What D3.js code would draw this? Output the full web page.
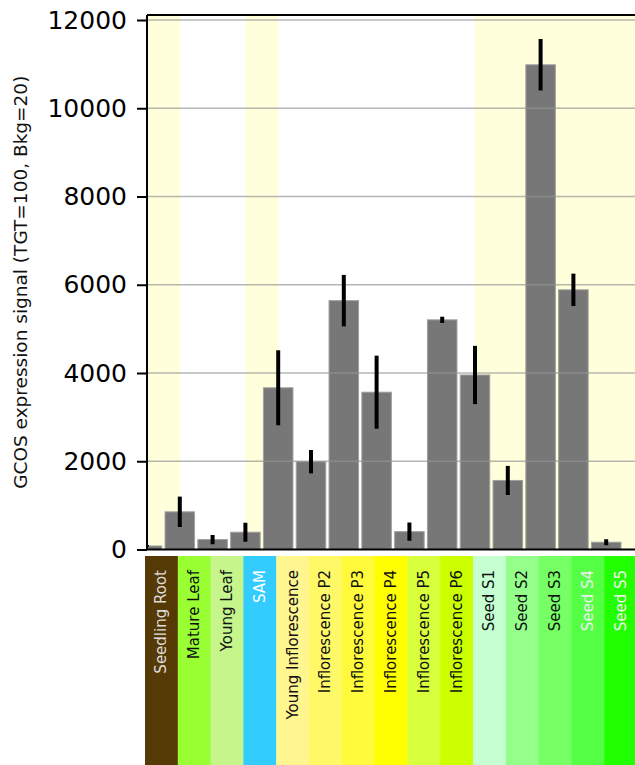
<!DOCTYPE html>
<html><head><meta charset="utf-8">
<script src="https://cdn.jsdelivr.net/npm/d3@7"></script>
<style>body{margin:0;background:#fff;overflow:hidden}</style>
</head><body>
<script>
const categories = ["Seedling Root","Mature Leaf","Young Leaf","SAM","Young Inflorescence","Inflorescence P2","Inflorescence P3","Inflorescence P4","Inflorescence P5","Inflorescence P6","Seed S1","Seed S2","Seed S3","Seed S4","Seed S5"];
const values = [80, 854, 226, 392, 3665, 1990, 5640, 3565, 405, 5205, 3955, 1565, 10985, 5885, 165];
const errors = [20, 345, 105, 215, 850, 265, 583, 828, 205, 70, 660, 330, 585, 367, 68];
const highlighted = [1,0,0,1,0,0,0,0,0,0,1,1,1,1,1];
const stripColors = ["#553a06","#99ff33","#c6f58b","#33ccff","#fff68f","#fff968","#fffa3c","#ffff00","#d8ff3c","#ccff00","#c6ffd2","#95ff8c","#77ff66","#55ff44","#22ff00"];
const labelColors = ["#dddddd","#111111","#111111","#ffffff","#111111","#111111","#111111","#111111","#111111","#111111","#111111","#111111","#111111","#eeeeee","#eeeeee"];
const yTicks = [0, 2000, 4000, 6000, 8000, 10000, 12000];
const yLabel = "GCOS expression signal (TGT=100, Bkg=20)";

const W = 635, H = 765;
const L = 147, T = 15, B = 549.5;
const svg = d3.select("body").append("svg").attr("width", W).attr("height", H)
  .style("font-family", "DejaVu Sans, sans-serif");

const x = d3.scaleLinear().domain([0, categories.length]).range([L, L + 32.8 * categories.length]);
const y = d3.scaleLinear().domain([0, 12000]).range([B, 20]);
const step = x(1) - x(0);

svg.append("defs").append("clipPath").attr("id", "plotclip")
  .append("rect").attr("x", L).attr("y", T).attr("width", W - L + 10).attr("height", B - T + 1);

const plot = svg.append("g").attr("clip-path", "url(#plotclip)");

// background stripes
plot.selectAll("rect.stripe").data(categories.map((c, i) => i).filter(i => highlighted[i]))
  .join("rect").attr("class", "stripe")
  .attr("x", i => x(i)).attr("width", step + 0.5)
  .attr("y", T).attr("height", B - T)
  .attr("fill", "#ffffdc");

// bars
plot.selectAll("rect.bar").data(values).join("rect").attr("class", "bar")
  .attr("x", (d, i) => x(i) - step * 0.45).attr("width", step * 0.9)
  .attr("y", d => y(d)).attr("height", d => B - y(d))
  .attr("fill", "#777777").attr("stroke", "#a0a0a0").attr("stroke-width", 1);

// gridlines (drawn over bars, semi-transparent)
plot.selectAll("line.grid").data(yTicks.filter(t => t > 0)).join("line").attr("class", "grid")
  .attr("x1", L).attr("x2", W).attr("y1", d => y(d)).attr("y2", d => y(d))
  .attr("stroke", "rgb(147,147,147)").attr("stroke-opacity", 0.68).attr("stroke-width", 1.5);

// error bars
plot.selectAll("line.err").data(values).join("line").attr("class", "err")
  .attr("x1", (d, i) => x(i)).attr("x2", (d, i) => x(i))
  .attr("y1", (d, i) => y(d + errors[i])).attr("y2", (d, i) => y(Math.max(0, d - errors[i])))
  .attr("stroke", "#000").attr("stroke-width", 4);

// spines
svg.append("line").attr("x1", L).attr("x2", W).attr("y1", T).attr("y2", T).attr("stroke", "#000").attr("stroke-width", 2);
svg.append("line").attr("x1", L).attr("x2", W).attr("y1", B).attr("y2", B).attr("stroke", "#000").attr("stroke-width", 2);

// y axis
const yAxis = d3.axisLeft(y).tickValues(yTicks).tickSize(10).tickPadding(10).tickFormat(d3.format("d"));
const ga = svg.append("g").attr("transform", `translate(${L},0)`).call(yAxis);
ga.select(".domain").attr("d", `M0,${T}V${B}`).attr("stroke", "#000").attr("stroke-width", 2);
ga.selectAll(".tick line").attr("stroke", "#000").attr("stroke-width", 2);
ga.selectAll(".tick text").attr("fill", "#000").style("font-size", "25px").style("font-family", "DejaVu Sans, sans-serif");

// y label
svg.append("text").attr("transform", `translate(27,${(T + B) / 2}) rotate(-90)`)
  .attr("text-anchor", "middle").style("font-size", "18.5px").attr("fill", "#111").text(yLabel);

// colour strip with labels
const strip = svg.append("g");
strip.selectAll("rect").data(categories).join("rect")
  .attr("x", (d, i) => x(i) - 2).attr("width", step + 0.5)
  .attr("y", 556).attr("height", H - 556)
  .attr("fill", (d, i) => stripColors[i]);
strip.selectAll("text").data(categories).join("text")
  .attr("transform", (d, i) => `translate(${x(i) - 2 + step / 2 + 5},570) rotate(-90)`)
  .attr("text-anchor", "end").style("font-size", "15px")
  .attr("fill", (d, i) => labelColors[i]).text(d => d);
</script>
</body></html>
